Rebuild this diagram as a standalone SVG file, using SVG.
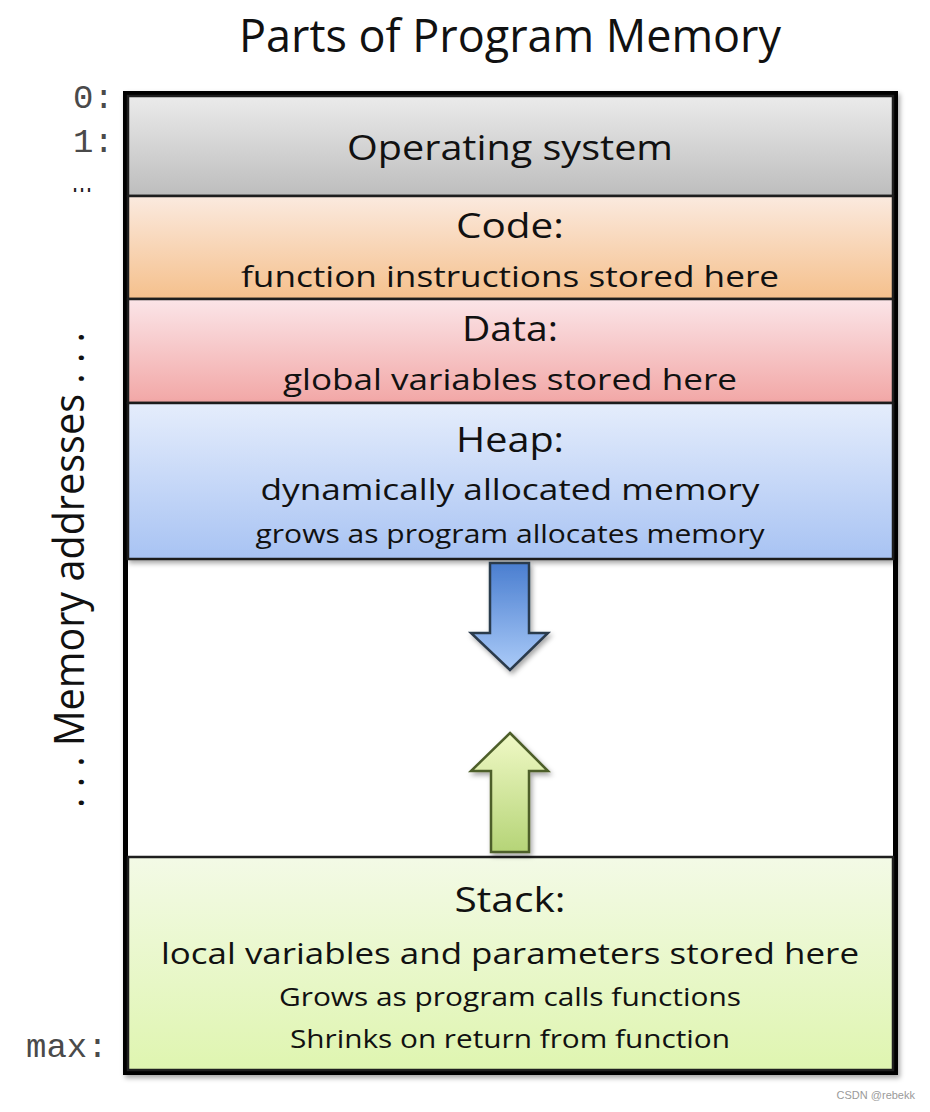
<svg xmlns="http://www.w3.org/2000/svg" width="930" height="1112" viewBox="0 0 930 1112">
<defs>
<style>
.t{font-family:"Open Sans","Noto Sans",sans-serif;fill:#111;text-anchor:middle}
.m{font-family:"Liberation Mono",monospace;fill:#4a4a4a;font-size:34px}
.sec{stroke:#1e1e1e;stroke-width:2.5}
</style>
<linearGradient id="gOS" x1="0" y1="0" x2="0" y2="1"><stop offset="0" stop-color="#ebebeb"/><stop offset="1" stop-color="#bdbdbd"/></linearGradient>
<linearGradient id="gCode" x1="0" y1="0" x2="0" y2="1"><stop offset="0" stop-color="#fbeadf"/><stop offset="1" stop-color="#f5c08c"/></linearGradient>
<linearGradient id="gData" x1="0" y1="0" x2="0" y2="1"><stop offset="0" stop-color="#fbe5e8"/><stop offset="1" stop-color="#f2a7a6"/></linearGradient>
<linearGradient id="gHeap" x1="0" y1="0" x2="0" y2="1"><stop offset="0" stop-color="#e5edfc"/><stop offset="1" stop-color="#a8c3f3"/></linearGradient>
<linearGradient id="gStack" x1="0" y1="0" x2="0" y2="1"><stop offset="0" stop-color="#f3fae6"/><stop offset="1" stop-color="#dff5b0"/></linearGradient>
<linearGradient id="gDown" x1="0" y1="0" x2="0" y2="1"><stop offset="0" stop-color="#4a7ed0"/><stop offset="1" stop-color="#abcbf8"/></linearGradient>
<linearGradient id="gUp" x1="0" y1="0" x2="0" y2="1"><stop offset="0" stop-color="#f0f9c6"/><stop offset="1" stop-color="#b5d477"/></linearGradient>
<filter id="sh" x="-10%" y="-10%" width="130%" height="130%"><feDropShadow dx="2" dy="3" stdDeviation="2.5" flood-color="#000" flood-opacity="0.35"/></filter>
</defs>
<rect width="930" height="1112" fill="#fff"/>
<text class="t" x="510" y="52" font-size="46" textLength="542" lengthAdjust="spacingAndGlyphs">Parts of Program Memory</text>

<g id="frame">
<rect x="125.5" y="93.5" width="770" height="979" fill="#fff" stroke="#000" stroke-width="5" filter="url(#sh)"/>
</g>

<g id="os">
<rect class="sec" x="128" y="96" width="765" height="100" fill="url(#gOS)"/>
<text class="t" x="510" y="160" font-size="34" textLength="326" lengthAdjust="spacingAndGlyphs">Operating system</text>
</g>
<g id="code">
<rect class="sec" x="128" y="196" width="765" height="103" fill="url(#gCode)"/>
<text class="t" x="510" y="238" font-size="34" textLength="108" lengthAdjust="spacingAndGlyphs">Code:</text>
<text class="t" x="510" y="287" font-size="30" textLength="538" lengthAdjust="spacingAndGlyphs">function instructions stored here</text>
</g>
<g id="data">
<rect class="sec" x="128" y="299" width="765" height="104" fill="url(#gData)"/>
<text class="t" x="510" y="341" font-size="34" textLength="96" lengthAdjust="spacingAndGlyphs">Data:</text>
<text class="t" x="510" y="390" font-size="30" textLength="454" lengthAdjust="spacingAndGlyphs">global variables stored here</text>
</g>
<g id="heap">
<rect class="sec" x="128" y="403" width="765" height="156" fill="url(#gHeap)" filter="url(#sh)"/>
<text class="t" x="510" y="452" font-size="34" textLength="108" lengthAdjust="spacingAndGlyphs">Heap:</text>
<text class="t" x="510" y="500" font-size="30" textLength="499" lengthAdjust="spacingAndGlyphs">dynamically allocated memory</text>
<text class="t" x="510" y="543" font-size="26" textLength="509" lengthAdjust="spacingAndGlyphs">grows as program allocates memory</text>
</g>
<g id="stack">
<rect class="sec" x="128" y="857" width="765" height="213" fill="url(#gStack)"/>
<text class="t" x="510" y="912" font-size="34" textLength="111" lengthAdjust="spacingAndGlyphs">Stack:</text>
<text class="t" x="510" y="964" font-size="30" textLength="698" lengthAdjust="spacingAndGlyphs">local variables and parameters stored here</text>
<text class="t" x="510" y="1006" font-size="26" textLength="462" lengthAdjust="spacingAndGlyphs">Grows as program calls functions</text>
<text class="t" x="510" y="1048" font-size="26" textLength="440" lengthAdjust="spacingAndGlyphs">Shrinks on return from function</text>
</g>

<g id="connectors">
<polygon points="490,563 529,563 529,633 548,633 510,670 471,633 490,633" fill="url(#gDown)" stroke="#2b3a4c" stroke-width="2.5" stroke-linejoin="miter" filter="url(#sh)"/>
<polygon points="510,733 548,771 529,771 529,852 491,852 491,771 471,771" fill="url(#gUp)" stroke="#4d5e2a" stroke-width="2.5" stroke-linejoin="miter" filter="url(#sh)"/>
</g>

<g id="labels">
<text class="m" x="73" y="108">0:</text>
<text class="m" x="73" y="152">1:</text>
<text x="71" y="192" font-family="Liberation Sans,sans-serif" font-size="36" fill="#222" textLength="22" lengthAdjust="spacingAndGlyphs">…</text>
<text class="m" x="26" y="1057">max:</text>
<text class="t" transform="translate(84,570) rotate(-90)" x="0" y="0" font-size="42" textLength="476" lengthAdjust="spacingAndGlyphs">. . . Memory addresses . . .</text>
</g>
<text x="915" y="1099" font-family="Liberation Sans,sans-serif" font-size="11" fill="#9a9a9a" text-anchor="end">CSDN @rebekk</text>
</svg>
